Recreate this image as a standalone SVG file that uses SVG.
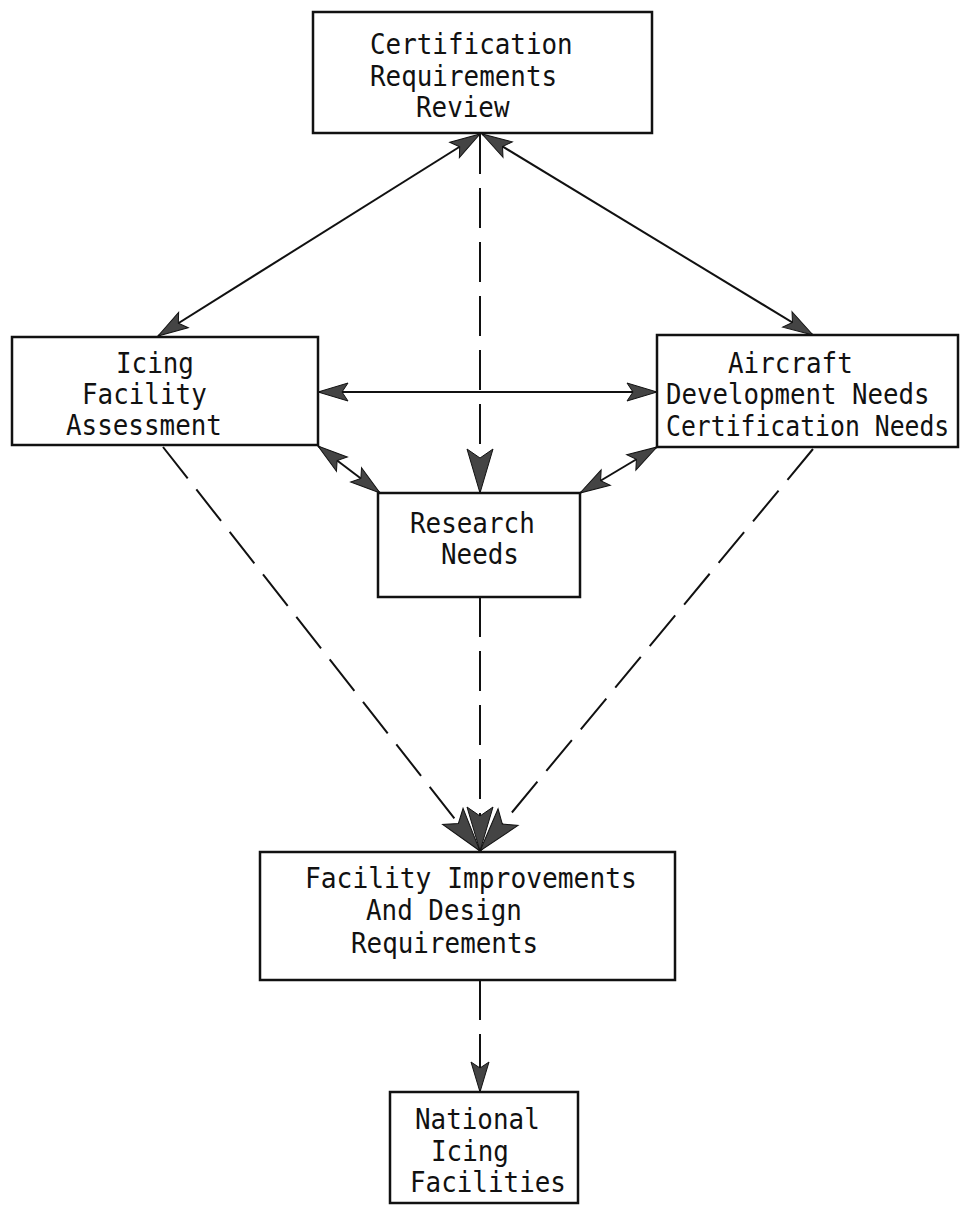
<svg xmlns="http://www.w3.org/2000/svg" width="961" height="1206" viewBox="0 0 961 1206">
<style>
.box{fill:none;stroke:#111;stroke-width:2.5}
.t{font-family:"DejaVu Sans Mono","Liberation Mono",monospace;font-size:28px;fill:#111}
.c{fill:none;stroke:#111;stroke-width:2}
.d{fill:none;stroke:#111;stroke-width:2;stroke-dasharray:40 14}
</style>
<defs>
<marker id="a" viewBox="0 0 30 18" refX="30" refY="9" markerWidth="30" markerHeight="18" markerUnits="userSpaceOnUse" orient="auto-start-reverse" overflow="visible"><path d="M0,0 L30,9 L0,18 L6,9 Z" fill="#444" stroke="#111" stroke-width="1"/></marker>
<marker id="b" viewBox="0 0 44 26" refX="44" refY="13" markerWidth="44" markerHeight="26" markerUnits="userSpaceOnUse" orient="auto" overflow="visible"><path d="M0,0 L44,13 L0,26 L9,13 Z" fill="#444" stroke="#111" stroke-width="1"/></marker>
</defs>
<rect width="961" height="1206" fill="#fff"/>
<g id="connectors">
<line class="c" x1="480" y1="134" x2="158" y2="336" marker-start="url(#a)" marker-end="url(#a)"/>
<line class="c" x1="482" y1="134" x2="813" y2="335" marker-start="url(#a)" marker-end="url(#a)"/>
<line class="c" x1="318" y1="392" x2="657" y2="392" marker-start="url(#a)" marker-end="url(#a)"/>
<line class="c" x1="318" y1="446" x2="380" y2="493" marker-start="url(#a)" marker-end="url(#a)"/>
<line class="c" x1="657" y1="447" x2="580" y2="493" marker-start="url(#a)" marker-end="url(#a)"/>
<line class="d" x1="480" y1="134" x2="480" y2="493" marker-end="url(#b)"/>
<line class="d" x1="163" y1="447" x2="480" y2="851" marker-end="url(#b)"/>
<line class="d" x1="813" y1="449" x2="480" y2="851" marker-end="url(#b)"/>
<line class="d" x1="480" y1="597" x2="480" y2="851" marker-end="url(#b)"/>
<line class="d" x1="480" y1="980" x2="480" y2="1092" marker-end="url(#a)"/>
</g>
<g id="cert-review">
<rect class="box" x="313" y="12" width="339" height="121"/>
<text class="t" transform="translate(370,54) scale(0.925,1)">Certification</text>
<text class="t" transform="translate(370,86) scale(0.925,1)">Requirements</text>
<text class="t" transform="translate(416,117) scale(0.925,1)">Review</text>
</g>
<g id="icing-assessment">
<rect class="box" x="12" y="337" width="306" height="108"/>
<text class="t" transform="translate(116,373) scale(0.925,1)">Icing</text>
<text class="t" transform="translate(82,404) scale(0.925,1)">Facility</text>
<text class="t" transform="translate(66,435) scale(0.925,1)">Assessment</text>
</g>
<g id="aircraft-needs">
<rect class="box" x="657" y="335" width="301" height="112"/>
<text class="t" transform="translate(728,373) scale(0.925,1)">Aircraft</text>
<text class="t" transform="translate(666,404) scale(0.92,1)">Development Needs</text>
<text class="t" transform="translate(666,436) scale(0.885,1)">Certification Needs</text>
</g>
<g id="research-needs">
<rect class="box" x="378" y="493" width="202" height="104"/>
<text class="t" transform="translate(410,533) scale(0.925,1)">Research</text>
<text class="t" transform="translate(441,564) scale(0.925,1)">Needs</text>
</g>
<g id="facility-improvements">
<rect class="box" x="260" y="852" width="415" height="128"/>
<text class="t" transform="translate(305,888) scale(0.938,1)">Facility Improvements</text>
<text class="t" transform="translate(366,920) scale(0.925,1)">And Design</text>
<text class="t" transform="translate(351,953) scale(0.925,1)">Requirements</text>
</g>
<g id="national-facilities">
<rect class="box" x="390" y="1092" width="188" height="111"/>
<text class="t" transform="translate(415,1129) scale(0.925,1)">National</text>
<text class="t" transform="translate(431,1161) scale(0.925,1)">Icing</text>
<text class="t" transform="translate(410,1192) scale(0.925,1)">Facilities</text>
</g>
</svg>
